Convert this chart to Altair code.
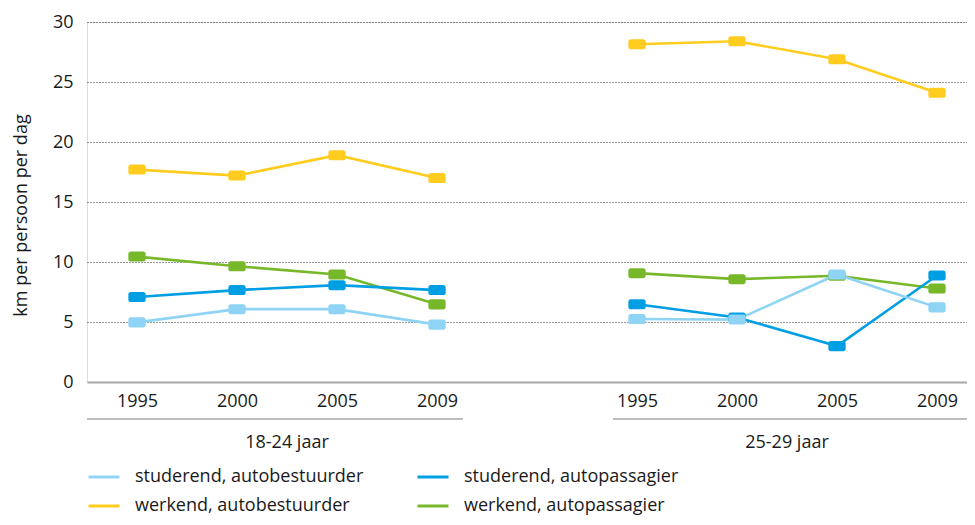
import altair as alt
import pandas as pd

# ---- data ----
years = ["1995", "2000", "2005", "2009"]
groups = ["18-24 jaar", "25-29 jaar"]
series = [
    "studerend, autobestuurder",
    "studerend, autopassagier",
    "werkend, autobestuurder",
    "werkend, autopassagier",
]
colors = ["#8fd3f5", "#009fe3", "#ffcc1f", "#77b82a"]

# values per series: 18-24 jaar (4 years) then 25-29 jaar (4 years)
stud_bestuurder = [4.97, 6.07, 6.07, 4.78, 5.25, 5.2, 8.96, 6.22]
stud_passagier = [7.08, 7.66, 8.07, 7.66, 6.48, 5.38, 2.99, 8.88]
werk_bestuurder = [17.7, 17.2, 18.9, 17.0, 28.15, 28.4, 26.9, 24.1]
werk_passagier = [10.45, 9.65, 8.96, 6.47, 9.07, 8.57, 8.85, 7.79]

values = {
    series[0]: stud_bestuurder,
    series[1]: stud_passagier,
    series[2]: werk_bestuurder,
    series[3]: werk_passagier,
}

# drawing order (last on top)
draw_order = [series[3], series[2], series[1], series[0]]

rows = []
for s in draw_order:
    for gi, g in enumerate(groups):
        for yi, yr in enumerate(years):
            pos = gi * (len(years) + 1) + yi
            rows.append({"serie": s, "groep": g, "jaar": yr, "pos": pos,
                         "waarde": values[s][gi * len(years) + yi]})
df = pd.DataFrame(rows)

# tick positions and labels
tick_pos = []
for gi in range(len(groups)):
    for yi in range(len(years)):
        tick_pos.append(gi * (len(years) + 1) + yi)
tick_lab = [""] * (max(tick_pos) + 1)
for gi in range(len(groups)):
    for yi, yr in enumerate(years):
        tick_lab[gi * (len(years) + 1) + yi] = yr
label_expr = "[" + ",".join("'" + t + "'" for t in tick_lab) + "][datum.value]"

# legend is filled column by column: order the domain so rows read as in the reference
legend_domain = [series[0], series[2], series[1], series[3]]
legend_range = [colors[series.index(s)] for s in legend_domain]

# group labels / underline (layout)
grp_df = pd.DataFrame({
    "groep": groups,
    "mid": [1.5, 6.5],
    "start": [-0.5, 4.76],
    "end": [3.26, 8.3],
})

FONT = "Open Sans"
TXT = "#1a1a1a"
W, H = 880, 360
xscale = alt.Scale(domain=[-0.5, 8.3], nice=False, zero=False)
yscale = alt.Scale(domain=[0, 30], nice=False)
cscale = alt.Scale(domain=legend_domain, range=legend_range)

color = alt.Color(
    "serie:N",
    scale=cscale,
    legend=alt.Legend(
        title=None, orient="none", legendX=0, legendY=438, columns=2,
        symbolType="stroke", symbolStrokeWidth=3, symbolSize=961,
        labelFont=FONT, labelFontSize=18, labelColor=TXT,
        labelOffset=14, columnPadding=47, rowPadding=3,
        labelLimit=400, symbolOpacity=1,
    ),
)

x_enc = alt.X(
    "pos:Q", scale=xscale, title=None,
    axis=alt.Axis(
        values=tick_pos, labelExpr=label_expr, grid=False, ticks=False,
        domainColor="#a8a8a8", domainWidth=2, labelFont=FONT, labelFontSize=18,
        labelColor=TXT, labelPadding=10, labelFlush=False,
    ),
)
y_enc = alt.Y(
    "waarde:Q", scale=yscale, title="km per persoon per dag",
    axis=alt.Axis(
        values=[0, 5, 10, 15, 20, 25, 30], domain=False, ticks=False,
        gridDash=[1, 2], gridColor="#333333", gridWidth=1,
        gridOpacity={"condition": {"test": "datum.value === 0", "value": 0}, "value": 1},
        labelFont=FONT, labelFontSize=18, labelColor=TXT, labelPadding=14,
        titleFont=FONT, titleFontSize=18, titleFontWeight="normal",
        titleColor=TXT, titleX=-66, titleY=193, titleBaseline="middle",
        titleAngle=270,
    ),
)

lines = alt.Chart(df).mark_line(strokeWidth=2.6).encode(
    x=x_enc, y=y_enc, color=color, detail="groep:N", order="jaar:O",
)

marker = ("M-0.7,-0.58 L0.7,-0.58 Q1,-0.58 1,-0.28 L1,0.28 Q1,0.58 0.7,0.58 "
          "L-0.7,0.58 Q-1,0.58 -1,0.28 L-1,-0.28 Q-1,-0.58 -0.7,-0.58 Z")
points = alt.Chart(df).mark_point(
    shape=marker, filled=True, opacity=1, size=300, strokeWidth=0,
).encode(x=x_enc, y=y_enc, color=alt.Color("serie:N", scale=cscale, legend=None))

underline = alt.Chart(grp_df).mark_rule(color="#a8a8a8", strokeWidth=1.5, clip=False).encode(
    x=alt.X("start:Q", scale=xscale), x2="end:Q", y=alt.value(397),
)
grp_text = alt.Chart(grp_df).mark_text(
    font=FONT, fontSize=18, color=TXT, baseline="middle",
).encode(x=alt.X("mid:Q", scale=xscale), y=alt.value(421), text="groep:N")

chart = alt.layer(lines, points, underline, grp_text).properties(
    width=W, height=H,
    autosize=alt.AutoSizeParams(type="none"),
    padding={"left": 79, "top": 14, "right": 0, "bottom": 135},
).configure_view(stroke=None).configure(background="white")

chart.save("out.html", embed_options={"renderer": "svg", "actions": False})
